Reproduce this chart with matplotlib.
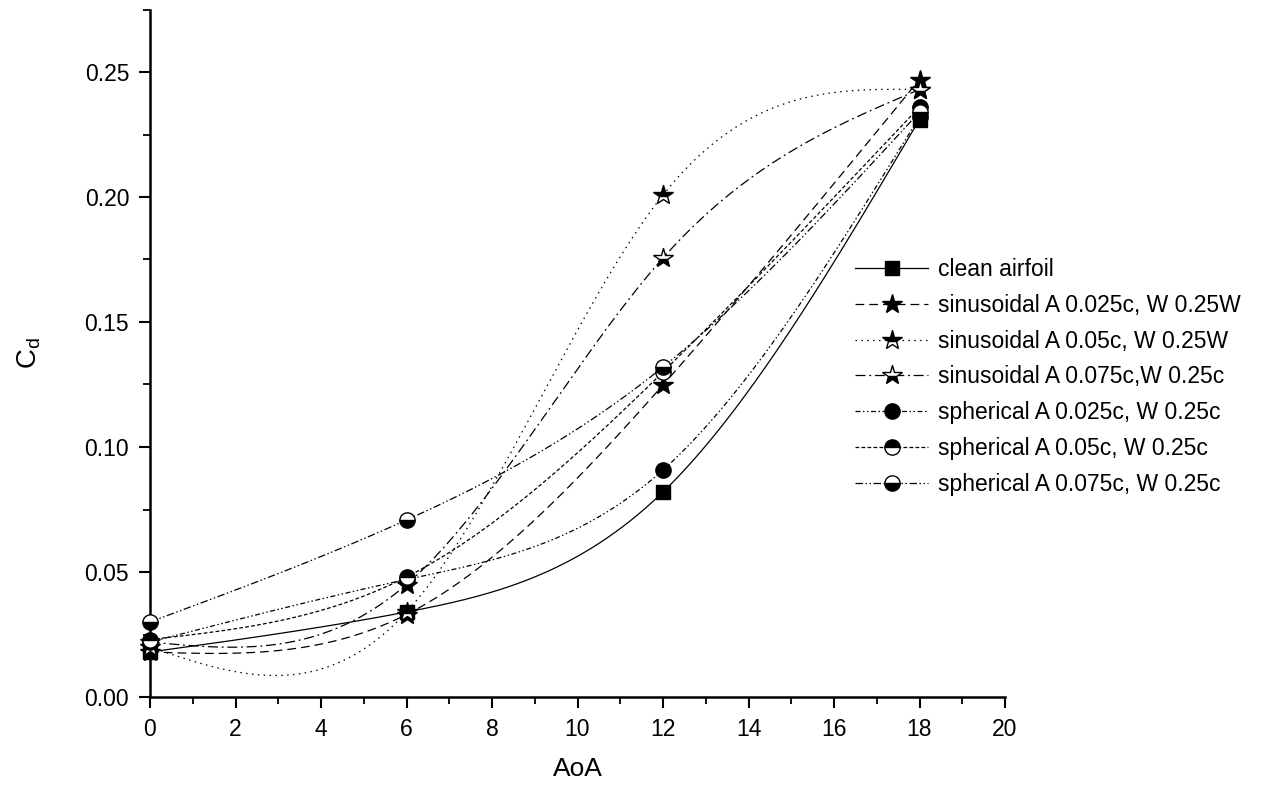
import numpy as np
import matplotlib
matplotlib.use("Agg")
import matplotlib.pyplot as plt
from matplotlib.lines import Line2D
from matplotlib.ticker import MultipleLocator, FormatStrFormatter

plt.rcParams['font.family'] = ['Liberation Sans', 'DejaVu Sans']
plt.rcParams['mathtext.fontset'] = 'custom'
plt.rcParams['mathtext.rm'] = 'Liberation Sans'
plt.rcParams['mathtext.it'] = 'Liberation Sans'

# ---------------------------------------------------------------- data
aoa = [0, 6, 12, 18]

labels = ["clean airfoil",
          "sinusoidal A 0.025c, W 0.25W",
          "sinusoidal A 0.05c, W 0.25W",
          "sinusoidal A 0.075c,W 0.25c",
          "spherical A 0.025c, W 0.25c",
          "spherical A 0.05c, W 0.25c",
          "spherical A 0.075c, W 0.25c"]

cd_clean = [0.018, 0.034, 0.082, 0.231]
cd_sin_025 = [0.018, 0.033, 0.1248, 0.247]
cd_sin_05 = [0.020, 0.034, 0.2008, 0.243]
cd_sin_075 = [0.022, 0.045, 0.1756, 0.243]
cd_sph_025 = [0.022, 0.047, 0.0908, 0.232]
cd_sph_05 = [0.023, 0.048, 0.130, 0.236]
cd_sph_075 = [0.030, 0.0708, 0.132, 0.234]

series = [cd_clean, cd_sin_025, cd_sin_05, cd_sin_075, cd_sph_025, cd_sph_05, cd_sph_075]

# ---------------------------------------------------------------- styles
line_styles = ['-', (0, (7, 4)), (0, (1.2, 3.5)), (0, (8, 3, 1.5, 3)),
               (0, (4, 2, 1.2, 2, 1.2, 2)), (0, (3, 1.8)), (0, (6, 2, 1.2, 2, 1.2, 2))]
markers = ['s', '*', '*', '*', 'o', 'o', 'o']
fills = ['full', 'full', 'top', 'bottom', 'full', 'top', 'bottom']
msizes = [10, 15, 15, 15, 11, 11, 11]


def natural_spline(xs, ys, n=400):
    # natural cubic spline through the points (Origin "spline" connect)
    xs = np.asarray(xs, float)
    ys = np.asarray(ys, float)
    k = len(xs)
    h = np.diff(xs)
    A = np.zeros((k, k))
    b = np.zeros(k)
    A[0, 0] = 1
    A[-1, -1] = 1
    for i in range(1, k - 1):
        A[i, i - 1] = h[i - 1]
        A[i, i] = 2 * (h[i - 1] + h[i])
        A[i, i + 1] = h[i]
        b[i] = 6 * ((ys[i + 1] - ys[i]) / h[i] - (ys[i] - ys[i - 1]) / h[i - 1])
    M = np.linalg.solve(A, b)
    xx = np.linspace(xs[0], xs[-1], n)
    yy = np.zeros_like(xx)
    for j, xv in enumerate(xx):
        i = min(np.searchsorted(xs, xv, side='right') - 1, k - 2)
        t1 = xs[i + 1] - xv
        t0 = xv - xs[i]
        yy[j] = (M[i] * t1 ** 3 + M[i + 1] * t0 ** 3) / (6 * h[i]) \
            + (ys[i] / h[i] - M[i] * h[i] / 6) * t1 \
            + (ys[i + 1] / h[i] - M[i + 1] * h[i] / 6) * t0
    return xx, yy


fig = plt.figure(figsize=(12.69, 7.88), dpi=100)
ax = fig.add_axes([150 / 1269, 91 / 788, 855 / 1269, 687.5 / 788])

handles = []
for k, ys in enumerate(series):
    xx, yy = natural_spline(aoa, ys)
    ax.plot(xx, yy, color='black', lw=0.9, ls=line_styles[k], zorder=2)
    ax.plot(aoa, ys, ls='none', marker=markers[k], ms=msizes[k], color='black',
            fillstyle=fills[k], markerfacecoloralt='white', mec='black', mew=1.0,
            zorder=3, clip_on=False)
    handles.append(Line2D([], [], color='black', lw=0.9, ls=line_styles[k],
                          marker=markers[k], ms=msizes[k], fillstyle=fills[k],
                          markerfacecoloralt='white', mec='black', mew=1.0))

ax.set_xlim(0, 20)
ax.set_ylim(0, 0.275)
ax.xaxis.set_major_locator(MultipleLocator(2))
ax.xaxis.set_minor_locator(MultipleLocator(1))
ax.yaxis.set_major_locator(MultipleLocator(0.05))
ax.yaxis.set_minor_locator(MultipleLocator(0.025))
ax.yaxis.set_major_formatter(FormatStrFormatter('%.2f'))

for s in ['top', 'right']:
    ax.spines[s].set_visible(False)
for s in ['left', 'bottom']:
    ax.spines[s].set_linewidth(1.8)

ax.tick_params(which='major', direction='out', length=8, width=1.5, labelsize=16.5, pad=7)
ax.tick_params(which='minor', direction='out', length=5, width=1.3)

ax.set_xlabel('AoA', fontsize=19, labelpad=12)
ax.set_ylabel(r'C$_\mathregular{d}$', fontsize=20, labelpad=30)

fig.legend(handles, labels, loc='upper left', bbox_to_anchor=(855 / 1269, 1 - 258 / 788),
           frameon=False, fontsize=16.5, handlelength=3.2, handletextpad=0.4,
           labelspacing=0.56, borderpad=0, borderaxespad=0, numpoints=1)

fig.savefig('out.png', dpi=100)
